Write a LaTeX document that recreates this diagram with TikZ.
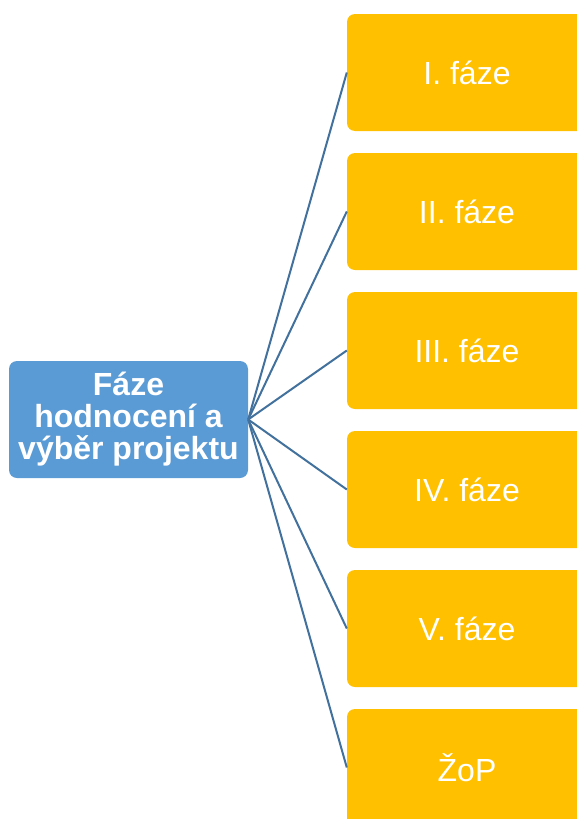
\documentclass[tikz,border=0pt]{standalone}
\usepackage{fontspec}
\setmainfont{Liberation Sans}
\usetikzlibrary{positioning}
\definecolor{rootblue}{HTML}{5B9BD5}
\definecolor{phaseorange}{HTML}{FFC000}
\definecolor{linkblue}{HTML}{41719C}

\begin{document}
\begin{tikzpicture}
	[x=1pt, y=-1pt, on grid, node distance=139pt,
	 root/.style={rectangle, rounded corners=8pt, fill=rootblue, text=white,
	   minimum width=239pt, minimum height=117pt, align=center, inner sep=0pt,
	   font=\fontsize{32}{32}\selectfont\bfseries},
	 phase/.style={rectangle, rounded corners=8pt, fill=phaseorange, text=white,
	   minimum width=240pt, minimum height=117pt,
	   font=\fontsize{32}{36}\selectfont},
	 link/.style={draw=linkblue, line width=2pt}]
   \useasboundingbox (0,0) rectangle (577,819);
   \node[root] (hodnoceni) at (128.5,419.5) {Fáze\\hodnocení a\\výběr projektu};
   \node[phase] (f_1) at (467,72.5) {I. fáze};
   \node[phase] (f_2) [below=of f_1] {II. fáze};
   \node[phase] (f_3) [below=of f_2] {III. fáze};
   \node[phase] (f_4) [below=of f_3] {IV. fáze};
   \node[phase] (f_5) [below=of f_4] {V. fáze};
   \node[phase] (zop) [below=of f_5] {ŽoP};
       \path[link]
    (hodnoceni.east) edge (f_1.west)
                     edge (f_2.west)
                     edge (f_3.west)
                     edge (f_4.west)
                     edge (f_5.west)
                     edge (zop.west);
\end{tikzpicture}
\end{document}
